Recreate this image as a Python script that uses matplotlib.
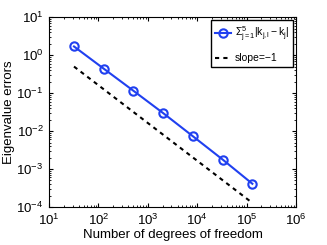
import matplotlib
matplotlib.use("Agg")
import matplotlib.pyplot as plt

# degrees of freedom and eigenvalue error sum
dofs = [32, 128, 512, 2048, 8192, 32768, 131072]
errors = [1.69, 0.44, 0.115, 0.0297, 0.0073, 0.00178, 0.00041]

# reference slope line endpoints
slope_x = [32, 120000]
slope_y = [0.5, 1.4e-4]

plt.rcParams.update({
    "font.family": ["Liberation Sans", "DejaVu Sans"],
    "font.size": 9.5,
    "mathtext.fontset": "custom",
    "mathtext.rm": "Liberation Sans",
    "mathtext.it": "Liberation Sans",
})

fig = plt.figure(figsize=(3.27, 2.45), dpi=100)
ax = fig.add_axes([0.15, 0.155, 0.755, 0.775])

ax.loglog(dofs, errors, "-o", color="#2040f0", lw=1.5, ms=6,
          mfc="none", mew=1.5, label=r"$\Sigma_{j=1}^{5}|k_{j,l}-k_j|$")
ax.loglog(slope_x, slope_y, "k--", lw=1.5, dashes=(2, 2), label="slope=\u22121")

ax.set_xlim(1e1, 1e6)
ax.set_ylim(1e-4, 1e1)
ax.set_xlabel("Number of degrees of freedom", labelpad=1)
ax.set_ylabel("Eigenvalue errors", labelpad=1)
ax.tick_params(which="both", direction="in", top=True, right=True, labelsize=9.5)
ax.tick_params(which="major", length=3, pad=4)
ax.tick_params(which="minor", length=1.5)

ax.legend(loc="upper right", fontsize=7.5, frameon=True, fancybox=False,
          edgecolor="black", framealpha=1, handlelength=1.6, borderpad=0.4,
          labelspacing=0.9, handletextpad=0.3, borderaxespad=0.3)

fig.savefig("out.png", dpi=100)
